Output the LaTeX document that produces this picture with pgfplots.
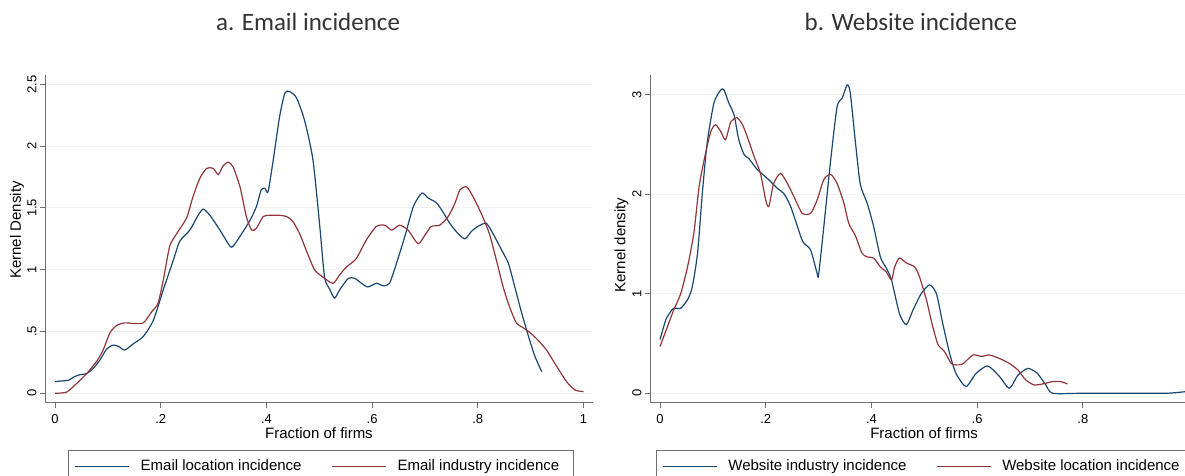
\documentclass[border=0pt]{standalone}
\usepackage{pgfplots}
\pgfplotsset{compat=1.18}
\usepackage{fontspec}
\setmainfont{Liberation Sans}
\newfontfamily\titlefont{Carlito}

\definecolor{stblue}{RGB}{26,71,111}
\definecolor{stred}{RGB}{144,53,59}
\definecolor{axgray}{RGB}{110,110,110}

\pgfplotsset{
  stata/.style={
    scale only axis, width=548pt, height=327.7pt,
    axis x line*=bottom, axis y line*=left,
    axis line style={axgray, line width=1pt},
    tick align=outside, major tick length=5pt,
    tick style={axgray, line width=0.9pt},
    ymajorgrids, grid style={gray!12, line width=0.8pt},
    xmin=-0.019, xmax=1.018,
    tick label style={font=\fontsize{13}{13}\selectfont},
    xticklabel style={yshift=-3pt},
    yticklabel style={rotate=90, anchor=south},
    xlabel={Fraction of firms},
    every axis x label/.style={at={(axis description cs:0.5,-0.0916)}, anchor=center,
      font=\fontsize{15}{15}\selectfont},
    title style={font=\titlefont\fontsize{25}{25}\selectfont, anchor=base, yshift=0pt, color=black!80},
    every axis plot/.append style={line width=1.2pt, smooth, tension=0.4},
    legend image code/.code={\draw[#1] (0pt,0pt) -- (54pt,0pt);},
    legend style={draw=axgray, line width=0.9pt, legend columns=2,
      inner xsep=6pt, inner ysep=9.5pt, anchor=north west,
      font=\fontsize{15}{15}\selectfont,
      nodes={inner sep=0pt},
      /tikz/every odd column/.append style={column sep=11pt},
      /tikz/every even column/.append style={column sep=0pt}},
  }
}

\begin{document}
\begin{tikzpicture}[x=1pt,y=1pt]

% a. Email incidence
\begin{axis}[stata,
  at={(45pt,72.3pt)}, anchor=south west,
  ymin=-0.076, ymax=2.575,
  xtick={0,0.2,0.4,0.6,0.8,1}, xticklabels={0,.2,.4,.6,.8,1},
  ytick={0,0.5,1,1.5,2,2.5}, yticklabels={0,.5,1,1.5,2,2.5},
  ylabel={Kernel Density},
  every axis y label/.style={at={(axis description cs:-0.051,0.527)}, rotate=90, anchor=center,
    font=\fontsize{15}{15}\selectfont},
  title={a. Email incidence},
  title style={at={(axis description cs:0.48,1.119)}},
  legend style={at={(axis description cs:0.042,-0.1443)}},
]
\addplot[stblue] coordinates {
(0,0.094) (0.012,0.1) (0.025,0.105) (0.037,0.135) (0.047,0.15) (0.06,0.16)
(0.072,0.2) (0.085,0.27) (0.098,0.36) (0.11,0.39) (0.12,0.38) (0.132,0.35)
(0.148,0.40) (0.167,0.46) (0.186,0.59) (0.205,0.84) (0.224,1.08) (0.236,1.23)
(0.255,1.32) (0.268,1.42) (0.28,1.49) (0.293,1.44) (0.312,1.32) (0.331,1.19)
(0.337,1.19) (0.35,1.27) (0.369,1.40) (0.381,1.51) (0.39,1.645) (0.397,1.66)
(0.403,1.63) (0.413,1.89) (0.425,2.24) (0.435,2.43) (0.444,2.44) (0.457,2.39)
(0.472,2.21) (0.488,1.89) (0.501,1.35) (0.51,0.94) (0.52,0.84) (0.529,0.77)
(0.539,0.84) (0.555,0.93) (0.567,0.93) (0.58,0.89) (0.592,0.86) (0.608,0.89)
(0.621,0.87) (0.633,0.89) (0.646,1.05) (0.662,1.27) (0.678,1.51) (0.694,1.62)
(0.706,1.58) (0.722,1.54) (0.735,1.46) (0.747,1.375) (0.763,1.29) (0.776,1.25)
(0.788,1.31) (0.8,1.35) (0.816,1.375) (0.829,1.29) (0.845,1.16) (0.858,1.05)
(0.87,0.86) (0.883,0.65) (0.896,0.46) (0.908,0.30) (0.921,0.175)
};
\addlegendentry{\makebox[190.7pt][l]{Email location incidence}}
\addplot[stred] coordinates {
(0,0.0) (0.022,0.01) (0.041,0.08) (0.06,0.16) (0.079,0.26) (0.091,0.35)
(0.104,0.49) (0.117,0.55) (0.132,0.57) (0.148,0.565) (0.167,0.57) (0.183,0.66)
(0.195,0.73) (0.205,0.92) (0.217,1.19) (0.23,1.29) (0.249,1.42) (0.261,1.59)
(0.274,1.74) (0.287,1.82) (0.299,1.82) (0.309,1.77) (0.318,1.84) (0.328,1.87)
(0.337,1.83) (0.35,1.67) (0.362,1.43) (0.372,1.32) (0.381,1.335) (0.394,1.43)
(0.406,1.44) (0.425,1.44) (0.438,1.43) (0.45,1.39) (0.463,1.29) (0.476,1.15)
(0.491,1.0) (0.507,0.94) (0.526,0.89) (0.539,0.96) (0.551,1.02) (0.57,1.09)
(0.589,1.24) (0.608,1.35) (0.624,1.36) (0.637,1.32) (0.652,1.36) (0.668,1.32)
(0.687,1.21) (0.7,1.28) (0.712,1.35) (0.728,1.36) (0.744,1.43) (0.757,1.54)
(0.766,1.645) (0.779,1.67) (0.791,1.59) (0.806,1.46) (0.822,1.29) (0.835,1.08)
(0.848,0.86) (0.86,0.70) (0.873,0.57) (0.886,0.53) (0.899,0.49) (0.914,0.43)
(0.93,0.35) (0.949,0.22) (0.968,0.094) (0.984,0.027) (1.0,0.013)
};
\addlegendentry{\makebox[170pt][l]{Email industry incidence}}
\end{axis}

% b. Website incidence
\begin{axis}[stata,
  at={(650pt,72.3pt)}, anchor=south west,
  ymin=-0.095, ymax=3.2,
  xtick={0,0.2,0.4,0.6,0.8}, xticklabels={0,.2,.4,.6,.8},
  ytick={0,1,2,3}, yticklabels={0,1,2,3},
  ylabel={Kernel density},
  every axis y label/.style={at={(axis description cs:-0.052,0.481)}, rotate=90, anchor=center,
    font=\fontsize{15}{15}\selectfont},
  title={b. Website incidence},
  title style={at={(axis description cs:0.476,1.119)}},
  legend style={at={(axis description cs:0.0104,-0.1443)}},
]
\addplot[stblue] coordinates {
(0,0.54) (0.011,0.74) (0.02,0.82) (0.026,0.855) (0.039,0.855) (0.052,0.94)
(0.061,1.07) (0.071,1.41) (0.08,2.01) (0.089,2.51) (0.102,2.92) (0.115,3.05)
(0.121,3.05) (0.13,2.92) (0.14,2.80) (0.149,2.55) (0.159,2.40) (0.168,2.36)
(0.184,2.25) (0.203,2.16) (0.222,2.06) (0.234,2.01) (0.247,1.88) (0.266,1.58)
(0.272,1.51) (0.285,1.44) (0.297,1.21) (0.3,1.19) (0.31,1.68) (0.323,2.35)
(0.335,2.88) (0.345,2.97) (0.354,3.10) (0.36,3.02) (0.37,2.51) (0.379,2.10)
(0.392,1.91) (0.404,1.68) (0.417,1.37) (0.428,1.26) (0.438,1.14) (0.453,0.80)
(0.466,0.69) (0.479,0.84) (0.494,1.0) (0.51,1.09) (0.523,1.0) (0.535,0.70)
(0.548,0.40) (0.56,0.20) (0.579,0.067) (0.598,0.20) (0.62,0.275) (0.642,0.17)
(0.661,0.05) (0.677,0.18) (0.696,0.25) (0.714,0.20) (0.73,0.084) (0.743,0.0)
(0.8,0.0) (0.9,0.0) (0.957,0.0) (0.98,0.008) (1.0,0.02)
};
\addlegendentry{\makebox[207.7pt][l]{Website industry incidence}}
\addplot[stred] coordinates {
(0,0.47) (0.014,0.67) (0.026,0.84) (0.039,1.0) (0.052,1.27) (0.064,1.61)
(0.074,2.08) (0.086,2.41) (0.096,2.63) (0.105,2.70) (0.115,2.63) (0.124,2.55)
(0.134,2.73) (0.146,2.77) (0.156,2.70) (0.165,2.58) (0.178,2.38) (0.19,2.21)
(0.2,1.94) (0.206,1.88) (0.215,2.11) (0.228,2.21) (0.241,2.11) (0.253,1.98)
(0.269,1.81) (0.285,1.81) (0.297,1.94) (0.31,2.15) (0.323,2.20) (0.335,2.11)
(0.348,1.91) (0.357,1.71) (0.37,1.58) (0.382,1.41) (0.392,1.37) (0.404,1.36)
(0.417,1.27) (0.428,1.22) (0.438,1.14) (0.444,1.27) (0.453,1.36) (0.466,1.31)
(0.482,1.27) (0.491,1.17) (0.504,0.94) (0.516,0.67) (0.526,0.49) (0.538,0.42)
(0.551,0.30) (0.56,0.285) (0.573,0.295) (0.592,0.385) (0.608,0.37) (0.623,0.385)
(0.642,0.35) (0.661,0.30) (0.677,0.235) (0.692,0.134) (0.708,0.084) (0.724,0.094)
(0.743,0.117) (0.758,0.117) (0.771,0.094)
};
\addlegendentry{\makebox[184pt][l]{Website location incidence}}
\end{axis}

\pgfresetboundingbox
\path[use as bounding box] (0,0) rectangle (1185,475);
\end{tikzpicture}
\end{document}
